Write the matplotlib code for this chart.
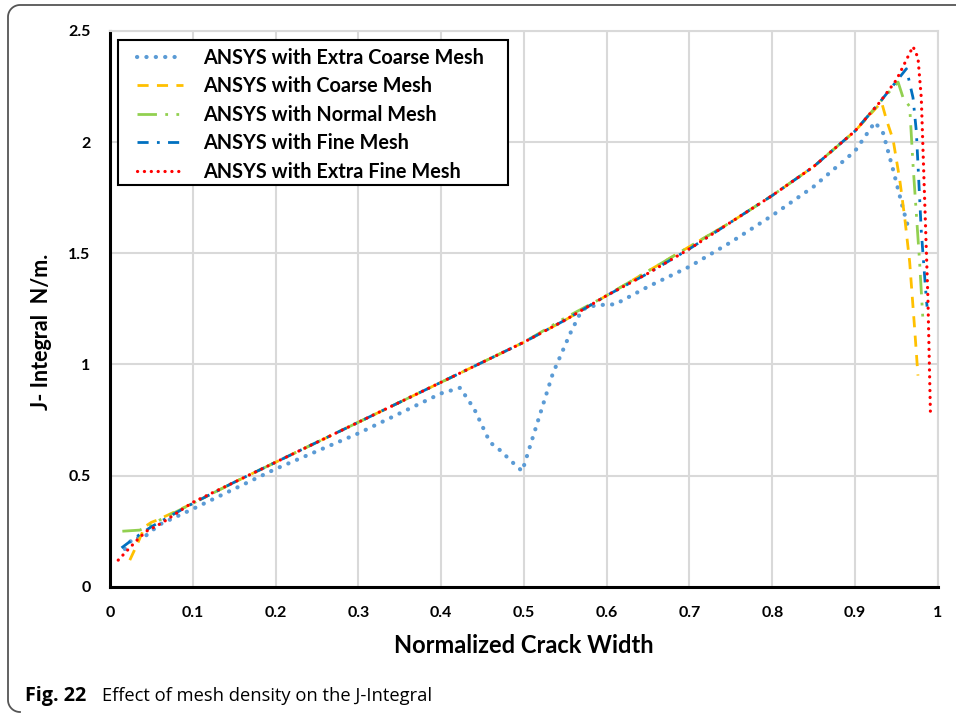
import numpy as np
import matplotlib.pyplot as plt
from matplotlib.lines import Line2D
from matplotlib.patches import Rectangle

plt.rcParams['font.family'] = ['Lato', 'DejaVu Sans']

# J-integral vs normalized crack width for each mesh density
x_xcoarse = [0.018, 0.028, 0.04, 0.05, 0.06, 0.1, 0.15, 0.2, 0.25, 0.3, 0.35, 0.4, 0.423,
             0.44, 0.459, 0.471, 0.489, 0.498, 0.511, 0.535, 0.556, 0.568, 0.576, 0.6, 0.61,
             0.65, 0.7, 0.75, 0.8, 0.85, 0.9, 0.924, 0.934, 0.946, 0.958, 0.964]
y_xcoarse = [0.17, 0.22, 0.22, 0.25, 0.28, 0.35, 0.44, 0.53, 0.61, 0.69, 0.78, 0.87, 0.895,
             0.8, 0.65, 0.615, 0.55, 0.52, 0.675, 0.96, 1.14, 1.23, 1.26, 1.27, 1.27,
             1.35, 1.44, 1.55, 1.67, 1.80, 1.96, 2.09, 2.04, 1.875, 1.70, 1.62]

x_coarse = [0.024, 0.034, 0.042, 0.05, 0.057, 0.1, 0.15, 0.2, 0.25, 0.3, 0.35, 0.4, 0.45,
            0.5, 0.55, 0.6, 0.65, 0.7, 0.75, 0.8, 0.85, 0.9, 0.932, 0.938, 0.946, 0.954,
            0.96, 0.966, 0.972, 0.976]
y_coarse = [0.12, 0.2, 0.27, 0.29, 0.30, 0.375, 0.47, 0.56, 0.65, 0.74, 0.83, 0.92, 1.01,
            1.10, 1.20, 1.31, 1.42, 1.53, 1.64, 1.76, 1.89, 2.05, 2.18, 2.1, 2.01, 1.83,
            1.66, 1.46, 1.16, 0.95]

x_normal = [0.015, 0.036, 0.05, 0.06, 0.1, 0.15, 0.2, 0.25, 0.3, 0.35, 0.4, 0.45, 0.5,
            0.55, 0.6, 0.65, 0.7, 0.75, 0.8, 0.85, 0.9, 0.93, 0.952, 0.958, 0.966, 0.97,
            0.974, 0.978, 0.982]
y_normal = [0.25, 0.255, 0.28, 0.30, 0.375, 0.47, 0.56, 0.65, 0.74, 0.83, 0.92, 1.01, 1.10,
            1.21, 1.31, 1.42, 1.53, 1.64, 1.76, 1.89, 2.05, 2.18, 2.27, 2.2, 2.16, 1.9,
            1.68, 1.46, 1.2]

x_fine = [0.014, 0.03, 0.05, 0.1, 0.15, 0.2, 0.25, 0.3, 0.35, 0.4, 0.45, 0.5, 0.55, 0.6,
          0.65, 0.7, 0.75, 0.8, 0.85, 0.9, 0.93, 0.962, 0.97, 0.974, 0.976, 0.98, 0.986,
          0.987]
y_fine = [0.175, 0.22, 0.27, 0.375, 0.47, 0.56, 0.65, 0.74, 0.83, 0.92, 1.01, 1.10, 1.20,
          1.31, 1.41, 1.52, 1.64, 1.76, 1.89, 2.05, 2.18, 2.33, 2.2, 2.05, 1.9, 1.6, 1.3,
          1.26]

x_xfine = [0.01, 0.02, 0.034, 0.044, 0.052, 0.064, 0.1, 0.15, 0.2, 0.25, 0.3, 0.35, 0.4,
           0.45, 0.5, 0.55, 0.6, 0.65, 0.7, 0.75, 0.8, 0.85, 0.9, 0.93, 0.95, 0.97, 0.976,
           0.98, 0.984, 0.988, 0.991]
y_xfine = [0.12, 0.16, 0.215, 0.25, 0.265, 0.29, 0.38, 0.47, 0.56, 0.65, 0.74, 0.83, 0.92,
           1.01, 1.10, 1.20, 1.31, 1.41, 1.52, 1.64, 1.76, 1.89, 2.05, 2.18, 2.28, 2.43,
           2.38, 2.2, 1.75, 1.3, 0.79]

labels = ['ANSYS with Extra Coarse Mesh', 'ANSYS with Coarse Mesh',
          'ANSYS with Normal Mesh', 'ANSYS with Fine Mesh', 'ANSYS with Extra Fine Mesh']

fig = plt.figure(figsize=(9.56, 7.2), dpi=100)
ax = fig.add_axes([0.115, 0.185, 0.866, 0.772])

ax.plot(x_xcoarse, y_xcoarse, color='#5B9BD5', lw=3, linestyle=(0, (0.05, 2.2)),
        dash_capstyle='round', label=labels[0])
ax.plot(x_coarse, y_coarse, color='#FFC000', lw=2, linestyle=(0, (4, 3)), label=labels[1])
ax.plot(x_normal, y_normal, color='#92D050', lw=2,
        linestyle=(0, (7, 3, 1, 3, 1, 3)), label=labels[2])
ax.plot(x_fine, y_fine, color='#0070C0', lw=2, linestyle=(0, (4, 3, 1, 3)), label=labels[3])
ax.plot(x_xfine, y_xfine, color='#FF0000', lw=2.3, linestyle=(0, (0.05, 2.1)),
        dash_capstyle='round', label=labels[4])

ax.set_xlim(0, 1)
ax.set_ylim(0, 2.5)
ax.set_xticks(np.arange(0, 1.01, 0.1))
ax.set_xticklabels(['0', '0.1', '0.2', '0.3', '0.4', '0.5', '0.6', '0.7', '0.8', '0.9', '1'])
ax.set_yticks(np.arange(0, 2.51, 0.5))
ax.set_yticklabels(['0', '0.5', '1', '1.5', '2', '2.5'])
ax.tick_params(length=0, labelsize=11.5, pad=14)
for t in ax.get_xticklabels() + ax.get_yticklabels():
    t.set_fontweight('bold')
ax.grid(True, color='#D9D9D9', lw=1.5)
ax.set_axisbelow(True)
for s in ['top', 'right']:
    ax.spines[s].set_color('#D9D9D9')
    ax.spines[s].set_linewidth(1.5)
for s in ['left', 'bottom']:
    ax.spines[s].set_color('black')
    ax.spines[s].set_linewidth(2.2)

ax.set_xlabel('Normalized Crack Width', fontsize=17, fontweight='bold', labelpad=10)
ax.set_ylabel('J- Integral  N/m.', fontsize=15.5, fontweight='bold')
ax.yaxis.set_label_coords(-0.070, 0.458)

# legend entries without frame; the box is drawn separately
leg = ax.legend(loc='upper left', bbox_to_anchor=(0.0326, 0.970), borderaxespad=0,
                frameon=False, handlelength=2.3, handletextpad=1.05, labelspacing=0.43,
                borderpad=0, prop={'weight': 'bold', 'size': 14.3})
leg.set_zorder(6)
ax.add_patch(Rectangle((0.0097, 0.723), 0.471, 0.261, transform=ax.transAxes,
                       facecolor='white', edgecolor='black', lw=1.5, zorder=5))

# outer figure frame with rounded corners (top and left edges)
r = 12
theta = np.linspace(0, np.pi / 2, 20)
px = [956] + list(8 + r - r * np.sin(theta)) + [8] + list(8 + r - r * np.cos(theta))
py = [5] + list(5 + r - r * np.cos(theta)) + [712 - r] + list(712 - r + r * np.sin(theta))
fig.add_artist(Line2D(np.array(px) / 956, 1 - np.array(py) / 720,
                      transform=fig.transFigure, color='#555555', lw=1.3))

fig.text(25 / 956, 1 - 701 / 720, 'Fig. 22', family='Open Sans', fontweight='bold',
         fontsize=14.2, va='baseline')
fig.text(102 / 956, 1 - 701 / 720, 'Effect of mesh density on the J-Integral',
         family='Open Sans', fontsize=13.2, va='baseline')

fig.savefig('out.png', dpi=100)
